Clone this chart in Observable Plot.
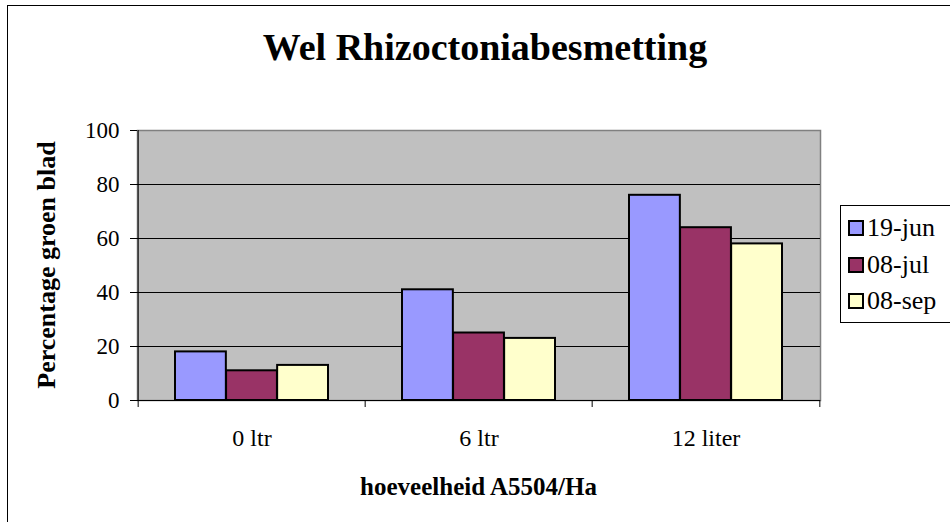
<!DOCTYPE html>
<html>
<head>
<meta charset="utf-8">
<script src="https://cdn.jsdelivr.net/npm/d3@7"></script>
<script src="https://cdn.jsdelivr.net/npm/@observablehq/plot@0.6"></script>
<style>
  html, body { margin: 0; padding: 0; background: white; overflow: hidden; }
  #wrap { position: relative; width: 950px; height: 522px; overflow: hidden; font-family: "Liberation Serif", "Times New Roman", serif; }
  #border { position: absolute; left: 7px; top: 5px; width: 1000px; height: 600px; border: 1.5px solid #000; box-sizing: border-box; }
  #chart { position: absolute; left: 0; top: 0; }
  #title { position: absolute; left: 0; width: 970px; top: 26px; text-align: center; font-size: 38px; font-weight: bold; line-height: 42px; }
  #xlabel { position: absolute; left: 137px; width: 683px; top: 473px; text-align: center; font-size: 25px; font-weight: bold; line-height: 28px; }
  #ylabel { position: absolute; left: 47px; top: 265px; transform: translate(-50%, -50%) rotate(-90deg); white-space: nowrap; font-size: 26px; font-weight: bold; line-height: 28px; }
  #legend { position: absolute; left: 840px; top: 205px; width: 130px; height: 118px; border: 1px solid #000; box-sizing: border-box; background: white; padding-top: 4px; }
  .item { display: flex; align-items: center; height: 36.5px; padding-left: 7px; font-size: 26px; }
  .sw { width: 12px; height: 12px; border: 2px solid #000; margin-right: 3px; flex: none; }
</style>
</head>
<body>
<div id="wrap">
  <div id="border"></div>
  <div id="chart"></div>
  <div id="title"></div>
  <div id="xlabel"></div>
  <div id="ylabel"></div>
  <div id="legend"></div>
</div>
<script>
const titleText = "Wel Rhizoctoniabesmetting";
const xTitle = "hoeveelheid A5504/Ha";
const yTitle = "Percentage groen blad";
const categories = ["0 ltr", "6 ltr", "12 liter"];
const series = ["19-jun", "08-jul", "08-sep"];
const values19jun = [18, 41, 76];
const values08jul = [11, 25, 64];
const values08sep = [13, 23, 58];
const yTicks = [0, 20, 40, 60, 80, 100];
const colors = ["#9999FF", "#993366", "#FFFFCC"];

const seriesValues = [values19jun, values08jul, values08sep];
const rows = [];
series.forEach((s, j) => categories.forEach((c, i) => rows.push({category: c, series: s, value: seriesValues[j][i]})));

const W = 950, H = 522, mL = 137, mR = 130, mT = 130, mB = 122;
const padIn = 0.327, padOut = 0.1635;
const step = (W - mL - mR) / (categories.length - padIn + 2 * padOut);
const bw = step * (1 - padIn);
const third = bw / series.length;
const half = step / 2;

const barMarks = series.map((s, j) => Plot.barY(rows.filter(d => d.series === s), {
  x: "category", y: "value", fill: colors[j], stroke: "black", strokeWidth: 2,
  insetLeft: j * third, insetRight: (series.length - 1 - j) * third
}));

const chart = Plot.plot({
  width: W, height: H,
  marginLeft: mL, marginRight: mR, marginTop: mT, marginBottom: mB,
  style: {fontFamily: "'Liberation Serif', 'Times New Roman', serif", fontSize: "23px", background: "transparent", color: "black", overflow: "visible"},
  x: {domain: categories, paddingInner: padIn, paddingOuter: padOut},
  y: {domain: [0, 100]},
  marks: [
    Plot.frame({fill: "#C0C0C0", stroke: "#808080", strokeWidth: 1.5}),
    Plot.gridY(yTicks.filter(t => t > 0 && t < 100), {stroke: "black", strokeOpacity: 1}),
    ...barMarks,
    Plot.ruleY([0], {stroke: "black", strokeWidth: 1}),
    Plot.ruleX([categories[0]], {dx: -half, stroke: "black", strokeWidth: 1}),
    Plot.axisY(yTicks, {tickSize: 7, tickPadding: 11, label: null, fontSize: 23}),
    Plot.axisX({tickSize: 0, tickPadding: 28, label: null, fontSize: 24}),
    Plot.axisX(categories, {tickSize: 7, tickFormat: () => "", dx: -half, label: null}),
    Plot.axisX([categories[categories.length - 1]], {tickSize: 7, tickFormat: () => "", dx: half, label: null})
  ]
});
document.getElementById("chart").appendChild(chart);
document.getElementById("title").textContent = titleText;
document.getElementById("xlabel").textContent = xTitle;
document.getElementById("ylabel").textContent = yTitle;
const legend = document.getElementById("legend");
series.forEach((s, j) => {
  const it = document.createElement("div");
  it.className = "item";
  const sw = document.createElement("span");
  sw.className = "sw";
  sw.style.background = colors[j];
  const tx = document.createElement("span");
  tx.textContent = s;
  it.appendChild(sw); it.appendChild(tx);
  legend.appendChild(it);
});
</script>
</body>
</html>
